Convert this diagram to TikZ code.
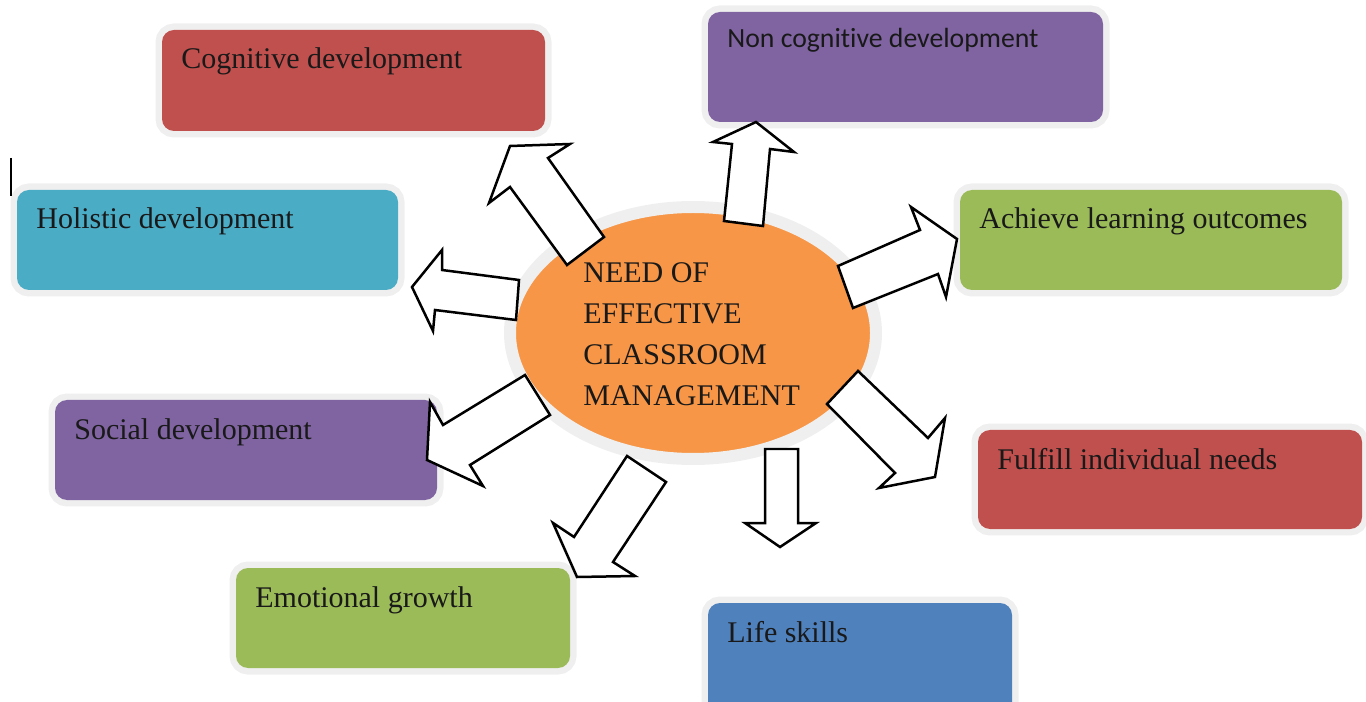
\documentclass[tikz,border=0pt]{standalone}
\usepackage{fontspec}
\setmainfont{Liberation Serif}
\newfontfamily\carl[Ligatures=NoCommon]{Carlito}
\usetikzlibrary{shapes.geometric}
\definecolor{cred}{HTML}{C0504D}
\definecolor{cpurple}{HTML}{8064A2}
\definecolor{cteal}{HTML}{4BACC6}
\definecolor{cgreen}{HTML}{9BBB59}
\definecolor{cblue}{HTML}{4F81BD}
\definecolor{corange}{HTML}{F79646}
\definecolor{halo}{HTML}{EFEFEF}
\begin{document}
\begin{tikzpicture}[x=0.02cm,y=-0.02cm,
  box/.style={rectangle, rounded corners=0.24cm, draw=none, inner sep=0pt,
    preaction={draw=halo, line width=0.26cm}},
  lbl/.style={anchor=base west, inner sep=0pt, text=black!90,
    font=\fontsize{17.07pt}{20pt}\selectfont},
  barrow/.style={draw=black, fill=white, line width=0.05cm, line join=miter}]
\useasboundingbox (0,0) rectangle (1366,702);
\clip (0,0) rectangle (1366,702);
% boxes
\node[box, fill=cred, minimum width=383*0.02cm, minimum height=101*0.02cm] (cog) at (353.5,80.5) {};
\node[box, fill=cpurple, minimum width=395*0.02cm, minimum height=110*0.02cm] (noncog) at (905.5,67) {};
\node[box, fill=cteal, minimum width=381*0.02cm, minimum height=100*0.02cm] (holi) at (207.5,240) {};
\node[box, fill=cgreen, minimum width=382*0.02cm, minimum height=100*0.02cm] (ach) at (1151,240) {};
\node[box, fill=cpurple, minimum width=382*0.02cm, minimum height=100*0.02cm] (soc) at (246,450) {};
\node[box, fill=cred, minimum width=384*0.02cm, minimum height=99*0.02cm] (ful) at (1170,479.5) {};
\node[box, fill=cgreen, minimum width=334*0.02cm, minimum height=100*0.02cm] (emo) at (403,618) {};
\node[box, fill=cblue, minimum width=304*0.02cm, minimum height=117*0.02cm] (life) at (860,661.5) {};
% labels
\node[lbl] (cogt) at (181,69) {Cognitive development};
\node[lbl, font=\carl\fontsize{15.8pt}{18pt}\selectfont] (noncogt) at (727,48) {Non cognitive development};
\node[lbl] (holit) at (36,229) {Holistic development};
\node[lbl] (acht) at (979,229) {Achieve learning outcomes};
\node[lbl] (soct) at (74,439) {Social development};
\node[lbl] (fult) at (997,469) {Fulfill individual needs};
\node[lbl] (emot) at (255,607) {Emotional growth};
\node[lbl] (lifet) at (727,642) {Life skills};
% stray bar
\draw[line width=0.045cm, black] (11,158) -- (11,196);
% centre ellipse
\node[ellipse, draw=halo, line width=0.24cm, fill=corange, minimum width=366*0.02cm, minimum height=252*0.02cm, inner sep=0pt] (centre) at (693,333) {};
\node[lbl] (c1) at (583,283) {NEED OF};
\node[lbl] (c2) at (583,324) {EFFECTIVE};
\node[lbl] (c3) at (583,365) {CLASSROOM};
\node[lbl] (c4) at (583,406) {MANAGEMENT};
% block arrows
\draw[barrow] (604,237) -- (548,158) -- (570,144) -- (510,146) -- (489,203) -- (510,187) -- (567,265) -- cycle;
\draw[barrow] (724,221) -- (732,144) -- (713,142) -- (756,122) -- (794,152) -- (770,149) -- (763,226) -- cycle;
\draw[barrow] (519,280) -- (442,270) -- (442,250) -- (412,287) -- (433,331) -- (435,310) -- (516,320) -- cycle;
\draw[barrow] (838,266) -- (920,230) -- (911,207) -- (957,239) -- (946,297) -- (938,274) -- (853,308) -- cycle;
\draw[barrow] (858,371) -- (928,438) -- (945,418) -- (935,477) -- (879,488) -- (895,473) -- (827,404) -- cycle;
\draw[barrow] (525,375) -- (443,425) -- (430,402) -- (427,460) -- (483,486) -- (470,465) -- (550,415) -- cycle;
\draw[barrow] (627,456) -- (574,537) -- (553,523) -- (577,577) -- (635,576) -- (613,562) -- (666,482) -- cycle;
\draw[barrow] (765,449) -- (765,523) -- (745,523) -- (780,547) -- (816,523) -- (798,523) -- (798,449) -- cycle;
\end{tikzpicture}
\end{document}
